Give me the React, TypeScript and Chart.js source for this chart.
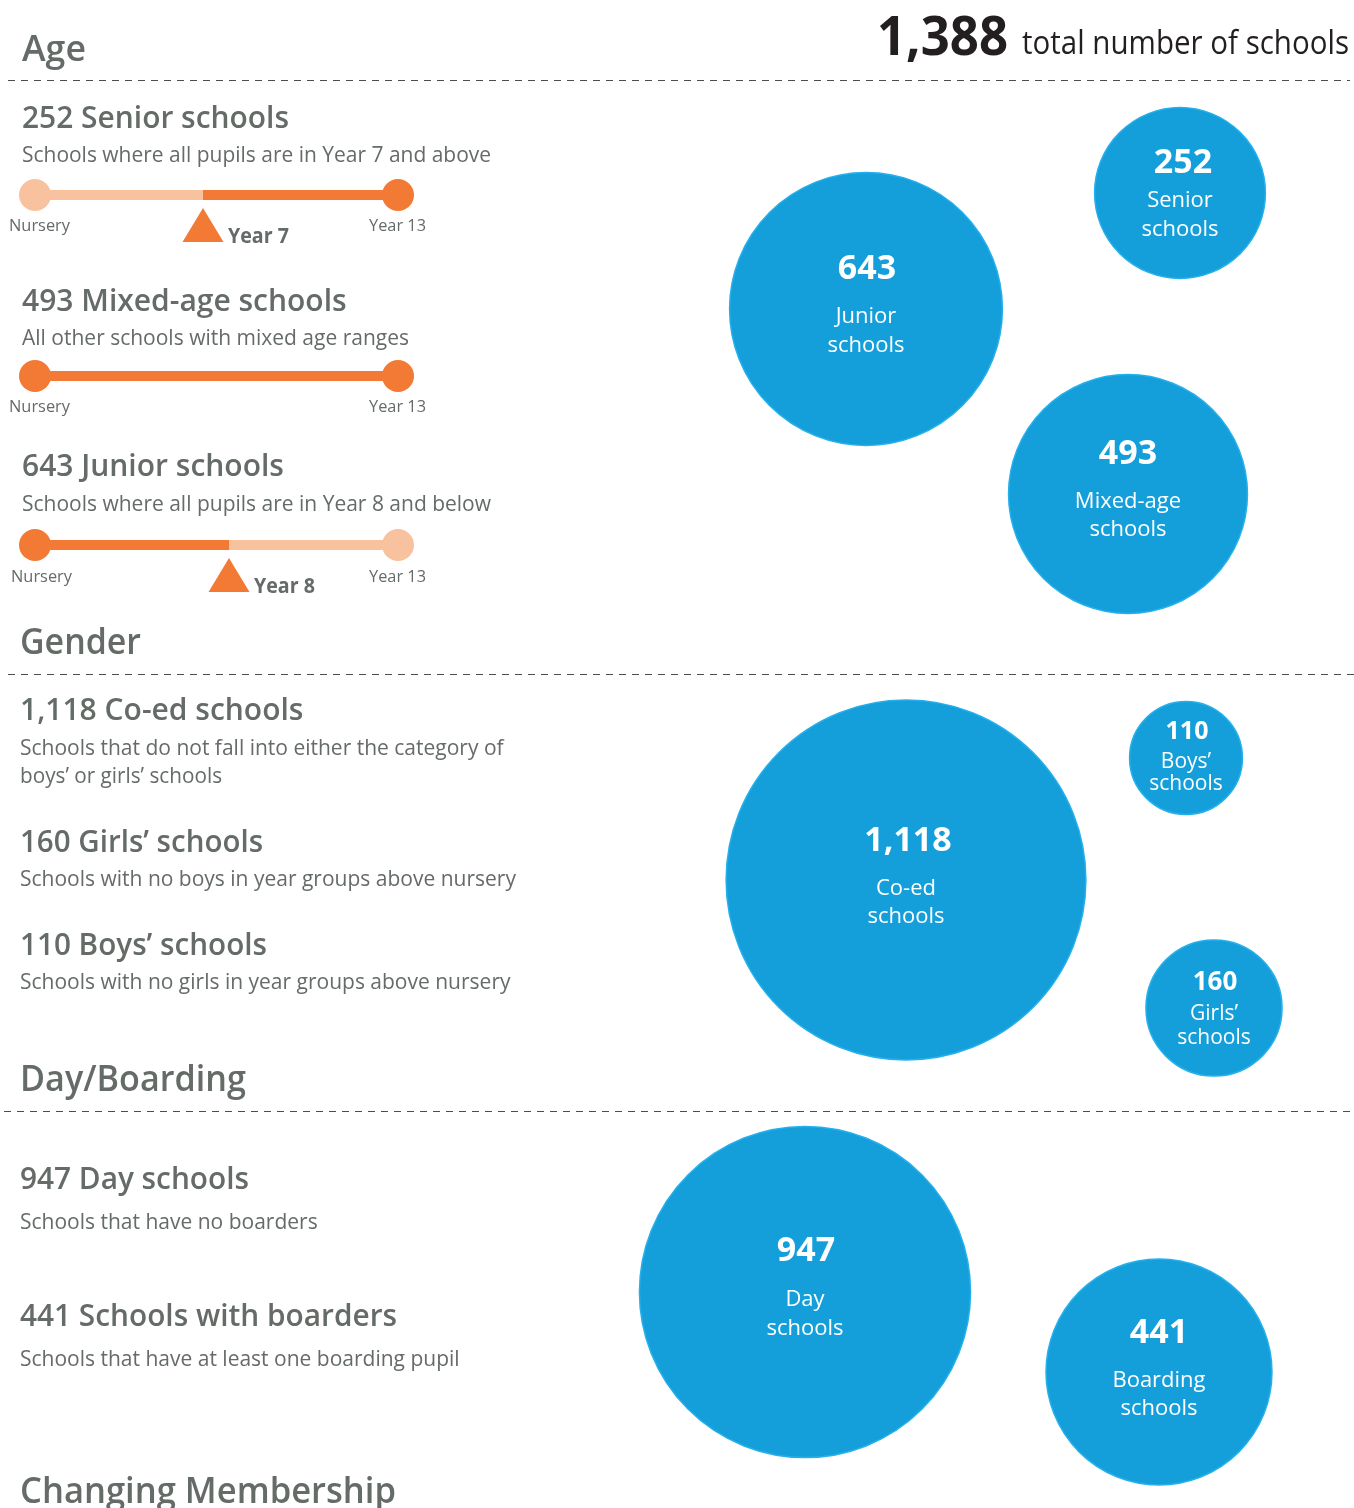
import React, { useEffect, useRef } from 'react';
import { Chart, registerables } from 'chart.js';

Chart.register(...registerables);

// ---------- data ----------
const totalSchools = 1388;
const totalLabel = 'total number of schools';
const sections = ['Age', 'Gender', 'Day/Boarding', 'Changing Membership'];
const categories = [
  'Senior schools',
  'Mixed-age schools',
  'Junior schools',
  'Co-ed schools',
  'Girls’ schools',
  'Boys’ schools',
  'Day schools',
  'Schools with boarders',
];
const counts = [252, 493, 643, 1118, 160, 110, 947, 441];
const descriptions = [
  ['Schools where all pupils are in Year 7 and above'],
  ['All other schools with mixed age ranges'],
  ['Schools where all pupils are in Year 8 and below'],
  ['Schools that do not fall into either the category of', 'boys’ or girls’ schools'],
  ['Schools with no boys in year groups above nursery'],
  ['Schools with no girls in year groups above nursery'],
  ['Schools that have no boarders'],
  ['Schools that have at least one boarding pupil'],
];
const bubbleLabels = [
  ['Senior', 'schools'],
  ['Mixed-age', 'schools'],
  ['Junior', 'schools'],
  ['Co-ed', 'schools'],
  ['Girls’', 'schools'],
  ['Boys’', 'schools'],
  ['Day', 'schools'],
  ['Boarding', 'schools'],
];
const ageEnds = ['Nursery', 'Year 13'];
const ageCutoffs = ['Year 7', '', 'Year 8']; // senior: from Year 7 up; junior: up to Year 8
const ageCutoffSide = ['upper', 'all', 'lower'];

// ---------- layout (positions / sizes / styles) ----------
const W = 1354;
const H = 1508;
const FONT = '"Open Sans", "DejaVu Sans", sans-serif';
const GREY = '#656b67';
const DARK = '#231f20';
const ORANGE = '#f37a35';
const PEACH = '#f9c29f';
const BLUE = '#149fda';
const BLUE_EDGE = '#25b0ec';
const RADIUS_PER_SQRT = 5.38;

const bubbleCentre = [
  [1180, 193], [1128, 494], [866, 309], [906, 880],
  [1214, 1008], [1186, 758], [805, 1292], [1159, 1372],
];
const bubbleTextDy = [
  [-20, 14, 43], [-30, 14, 42], [-30, 14, 43], [-29, 15, 43],
  [-18, 12, 36], [-19, 10, 32], [-31, 14, 43], [-29, 15, 43],
];
const bubbleTextDx = [3, 0, 1, 2, 1, 1, 1, 0];
const bubbleNumSize = [34, 34, 34, 34, 26, 25, 34, 34];
const bubbleLabelSize = [22, 22, 22, 22, 21, 21, 22, 22];

const headX = [22, 22, 22, 20, 20, 20, 20, 20];
const headY = [128, 311, 476, 720, 852, 955, 1189, 1326];
const headW = [267, 326, 264, 285, 243, 247, 229, 377];
const descY = [162, 345, 511, 755, 886, 989, 1229, 1366];
const descW = [[469], [392], [469], [490, 202], [500], [494], [298], [444]];

const sectionPos = [[22, 61, 64], [20, 654, 121], [20, 1091, 226], [20, 1503, 376]];
const dashLines = [[8, 1350, 80.5], [8, 1354, 674.5], [4, 1354, 1111.5]];

const sliderY = [195, 376, 545];
const sliderX0 = 35;
const sliderX1 = 398;
const cutoffX = [203, 0, 229];

function fmt(n: number) {
  return n.toLocaleString('en-GB');
}

function text(
  ctx: CanvasRenderingContext2D, s: string, x: number, y: number,
  size: number, weight: number, color: string, maxW?: number, align: CanvasTextAlign = 'left'
) {
  ctx.font = `${weight} ${size}px ${FONT}`;
  ctx.fillStyle = color;
  ctx.textAlign = align;
  ctx.textBaseline = 'alphabetic';
  if (maxW) ctx.fillText(s, x, y, maxW);
  else ctx.fillText(s, x, y);
}

const infographicPlugin = {
  id: 'infographic',
  beforeDatasetsDraw(chart: any) {
    const ctx: CanvasRenderingContext2D = chart.ctx;
    const xs = chart.scales.x;
    const ys = chart.scales.y;
    const px = (v: number) => xs.getPixelForValue(v);
    const py = (v: number) => ys.getPixelForValue(v);
    ctx.save();

    // total
    text(ctx, fmt(totalSchools), px(877), py(55), 53, 700, DARK, 131);
    text(ctx, totalLabel, px(1022), py(54), 33, 400, DARK, 327);

    // sections
    sections.forEach((s, i) => {
      const [x, y, w] = sectionPos[i];
      text(ctx, s, px(x), py(y), 36, 600, GREY, w);
    });

    // dashed rules
    ctx.strokeStyle = '#4d4d4d';
    ctx.lineWidth = 1;
    ctx.setLineDash([7, 6]);
    dashLines.forEach(([a, b, y]) => {
      ctx.beginPath();
      ctx.moveTo(px(a), py(y));
      ctx.lineTo(px(b), py(y));
      ctx.stroke();
    });
    ctx.setLineDash([]);

    // headlines and descriptions
    categories.forEach((c, i) => {
      text(ctx, `${fmt(counts[i])} ${c}`, px(headX[i]), py(headY[i]), 30, 600, GREY, headW[i]);
      descriptions[i].forEach((d, j) => {
        text(ctx, d, px(headX[i]), py(descY[i] + j * 28), 21, 400, GREY, descW[i][j]);
      });
    });

    // age sliders
    sliderY.forEach((yv, i) => {
      const y = py(yv);
      const x0 = px(sliderX0);
      const x1 = px(sliderX1);
      const side = ageCutoffSide[i];
      const cx = side === 'all' ? x1 : px(cutoffX[i]);
      const leftCol = side === 'upper' ? PEACH : ORANGE;
      const rightCol = side === 'lower' ? PEACH : ORANGE;
      ctx.lineWidth = 10;
      ctx.lineCap = 'butt';
      ctx.strokeStyle = leftCol;
      ctx.beginPath(); ctx.moveTo(x0, y); ctx.lineTo(cx, y); ctx.stroke();
      if (side !== 'all') {
        ctx.strokeStyle = rightCol;
        ctx.beginPath(); ctx.moveTo(cx, y); ctx.lineTo(x1, y); ctx.stroke();
      }
      ctx.fillStyle = leftCol;
      ctx.beginPath(); ctx.arc(x0, y, 16, 0, Math.PI * 2); ctx.fill();
      ctx.fillStyle = rightCol;
      ctx.beginPath(); ctx.arc(x1, y, 16, 0, Math.PI * 2); ctx.fill();

      const ly = i === 2 ? y + 37 : y + 36;
      text(ctx, ageEnds[0], px(i === 2 ? 11 : 9), ly, 17, 400, GREY, 61);
      text(ctx, ageEnds[1], px(369), ly, 17, 400, GREY, 57);

      if (side !== 'all') {
        ctx.fillStyle = ORANGE;
        ctx.beginPath();
        ctx.moveTo(cx, y + 13);
        ctx.lineTo(cx + 20.5, y + 47);
        ctx.lineTo(cx - 20.5, y + 47);
        ctx.closePath();
        ctx.fill();
        text(ctx, ageCutoffs[i], cx + 25, y + 48, 22, 700, GREY, 61);
      }
    });
    ctx.restore();
  },
  afterDatasetsDraw(chart: any) {
    const ctx: CanvasRenderingContext2D = chart.ctx;
    const meta = chart.getDatasetMeta(0);
    ctx.save();
    meta.data.forEach((el: any, i: number) => {
      const dy = bubbleTextDy[i];
      const x = el.x + bubbleTextDx[i];
      text(ctx, fmt(counts[i]), x, el.y + dy[0], bubbleNumSize[i], 700, '#ffffff', undefined, 'center');
      bubbleLabels[i].forEach((l, j) => {
        text(ctx, l, el.x, el.y + dy[j + 1], bubbleLabelSize[i], 400, '#ffffff', undefined, 'center');
      });
    });
    ctx.restore();
  },
};

export default function App() {
  const ref = useRef<HTMLCanvasElement>(null);
  useEffect(() => {
    if (!ref.current) return;
    const chart = new Chart(ref.current, {
      type: 'bubble',
      data: {
        datasets: [
          {
            label: 'Schools',
            data: counts.map((c, i) => ({
              x: bubbleCentre[i][0],
              y: bubbleCentre[i][1],
              r: RADIUS_PER_SQRT * Math.sqrt(c),
            })),
            backgroundColor: BLUE,
            borderColor: BLUE_EDGE,
            borderWidth: 1.5,
            hoverRadius: 0,
            clip: false,
          },
        ],
      },
      options: {
        responsive: false,
        maintainAspectRatio: false,
        animation: false,
        events: [],
        layout: { padding: 0, autoPadding: false },
        plugins: { legend: { display: false }, tooltip: { enabled: false } },
        scales: {
          x: { type: 'linear', min: 0, max: W, display: false },
          y: { type: 'linear', min: 0, max: H, reverse: true, display: false },
        },
      },
      plugins: [infographicPlugin],
    });
    return () => chart.destroy();
  }, []);
  return (
    <div style={{ position: 'absolute', left: 0, top: 0, width: W, height: H, background: '#ffffff' }}>
      <canvas ref={ref} width={W} height={H} style={{ display: 'block', width: W, height: H }} />
    </div>
  );
}
